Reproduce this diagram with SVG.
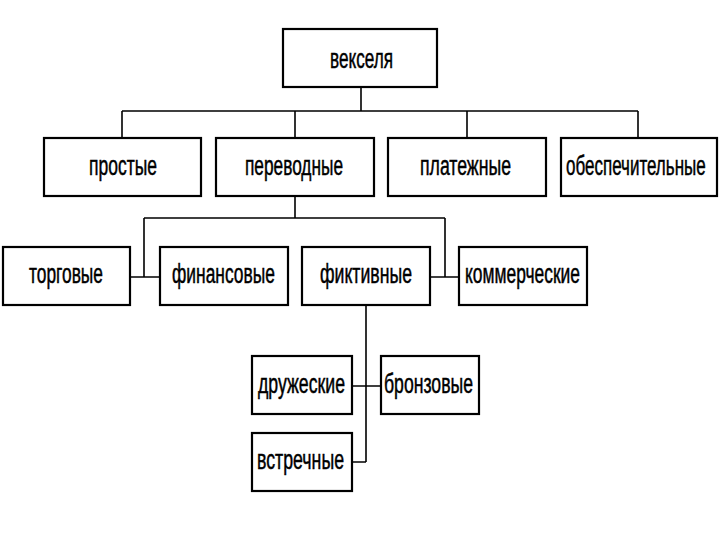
<svg xmlns="http://www.w3.org/2000/svg" width="720" height="540" viewBox="0 0 720 540">
<style>
.box{fill:#fff;stroke:#000;stroke-width:2.2}
.lbl{font-family:"Liberation Sans",Arial,sans-serif;font-size:27px;fill:#000;stroke:#000;stroke-width:0.5;text-anchor:start}
.con{fill:none;stroke:#000;stroke-width:1.6}
</style>
<rect width="720" height="540" fill="#fff"/>
<g id="connectors">
<path class="con" d="M361 87V111M122 111H638M122 111V138M295 111V138M467 111V138M638 111V138"/>
<path class="con" d="M295 196V218M144 218H445M144 218V277M445 218V277M130 277H160M430 277H459"/>
<path class="con" d="M366 305V462M352 386H381M352 462H366"/>
</g>
<g id="n-vekselya"><rect class="box" x="283" y="29" width="154" height="58"/><text class="lbl" x="330" y="68" textLength="63" lengthAdjust="spacingAndGlyphs">векселя</text></g>
<g id="n-prostye"><rect class="box" x="44" y="138" width="157" height="58"/><text class="lbl" x="89" y="175" textLength="68" lengthAdjust="spacingAndGlyphs">простые</text></g>
<g id="n-perevodnye"><rect class="box" x="216" y="138" width="158" height="58"/><text class="lbl" x="245" y="175" textLength="98" lengthAdjust="spacingAndGlyphs">переводные</text></g>
<g id="n-platezhnye"><rect class="box" x="388" y="138" width="158" height="58"/><text class="lbl" x="420" y="175" textLength="91" lengthAdjust="spacingAndGlyphs">платежные</text></g>
<g id="n-obespechitelnye"><rect class="box" x="561" y="138" width="156" height="58"/><text class="lbl" transform="translate(566 175) scale(0.63 1)" x="0" y="0">обеспечительные</text></g>
<g id="n-torgovye"><rect class="box" x="3" y="247" width="127" height="58"/><text class="lbl" x="29" y="283" textLength="74" lengthAdjust="spacingAndGlyphs">торговые</text></g>
<g id="n-finansovye"><rect class="box" x="160" y="247" width="128" height="58"/><text class="lbl" x="172" y="283" textLength="103" lengthAdjust="spacingAndGlyphs">финансовые</text></g>
<g id="n-fiktivnye"><rect class="box" x="302" y="247" width="128" height="58"/><text class="lbl" x="320" y="283" textLength="92" lengthAdjust="spacingAndGlyphs">фиктивные</text></g>
<g id="n-kommercheskie"><rect class="box" x="459" y="247" width="128" height="58"/><text class="lbl" x="465" y="283" textLength="115" lengthAdjust="spacingAndGlyphs">коммерческие</text></g>
<g id="n-druzheskie"><rect class="box" x="252" y="356" width="100" height="58"/><text class="lbl" x="258" y="393" textLength="87" lengthAdjust="spacingAndGlyphs">дружеские</text></g>
<g id="n-bronzovye"><rect class="box" x="381" y="356" width="98" height="58"/><text class="lbl" x="384" y="393" textLength="89" lengthAdjust="spacingAndGlyphs">бронзовые</text></g>
<g id="n-vstrechnye"><rect class="box" x="252" y="433" width="100" height="58"/><text class="lbl" x="257" y="469" textLength="87" lengthAdjust="spacingAndGlyphs">встречные</text></g>
</svg>
